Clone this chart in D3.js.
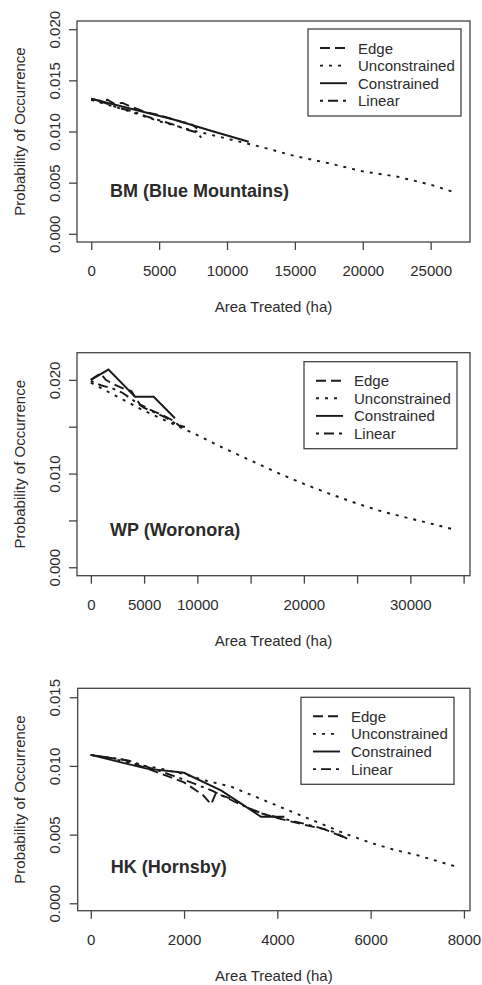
<!DOCTYPE html>
<html>
<head>
<meta charset="utf-8">
<script src="https://cdn.jsdelivr.net/npm/d3@7"></script>
<style>
  body { margin: 0; background: #fff; }
  text { font-family: "Liberation Sans", Arial, sans-serif; fill: #2b2b2b; }
</style>
</head>
<body>
<svg id="chart"></svg>
<script>
// series names, in legend order
const seriesNames = ["Edge", "Unconstrained", "Constrained", "Linear"];

// BM (Blue Mountains)  [area treated (ha), probability]
const bmEdge = [[0,0.0132],[600,0.0130],[1200,0.0131],[1700,0.0127],[2300,0.0128],[2800,0.0125],[4000,0.0119],[5000,0.0116],[6000,0.0112],[6800,0.0109],[7400,0.0107],[7800,0.0103]];
const bmUncon = [[0,0.0131],[2500,0.0121],[5000,0.0110],[7500,0.0101],[10000,0.0093],[12500,0.0085],[15000,0.0076],[17500,0.0069],[20000,0.0061],[22500,0.0056],[25000,0.0048],[26900,0.0040]];
const bmCons = [[0,0.0132],[3000,0.0122],[6000,0.0112],[9000,0.0100],[11600,0.0090]];
const bmLinear = [[0,0.0131],[1000,0.0128],[2000,0.0123],[3000,0.0120],[4000,0.0115],[5000,0.0111],[6000,0.0107],[7000,0.0102],[7800,0.0099],[8100,0.0094]];

// WP (Woronora)
const wpEdge = [[0,0.0200],[900,0.0207],[1400,0.0200],[2200,0.0195],[3200,0.0190],[3800,0.0188],[4600,0.0174],[5600,0.0168],[6800,0.0162],[7800,0.0156],[8400,0.0150],[9000,0.0150]];
const wpUncon = [[0,0.0197],[2500,0.0182],[5000,0.0167],[7500,0.0154],[10000,0.0141],[12500,0.0127],[15000,0.0114],[17500,0.0101],[20000,0.0089],[22500,0.0078],[25000,0.0068],[27500,0.0059],[30000,0.0052],[32500,0.0045],[34200,0.0040]];
const wpCons = [[0,0.0200],[1650,0.0211],[4150,0.0182],[5900,0.0182],[7900,0.0159]];
const wpLinear = [[0,0.0199],[1000,0.0194],[2000,0.0191],[3000,0.0186],[4000,0.0178],[5000,0.0170],[6000,0.0165],[7000,0.0160],[8000,0.0153],[8700,0.0150]];

// HK (Hornsby)
const hkEdge = [[0,0.0108],[700,0.01045],[1300,0.0097],[2000,0.0088],[2400,0.0079],[2580,0.0072],[2680,0.0080],[3100,0.0075],[3500,0.0067],[4000,0.0062],[4600,0.0057],[5000,0.0054],[5500,0.0047]];
const hkUncon = [[0,0.0108],[500,0.0105],[1000,0.0101],[1500,0.0098],[2000,0.0094],[2500,0.0089],[3000,0.0085],[3500,0.0078],[4000,0.0071],[4500,0.0064],[5000,0.0057],[5500,0.0050],[6000,0.0044],[6500,0.0039],[7000,0.0035],[7500,0.0030],[7800,0.0027]];
const hkCons = [[0,0.0108],[1200,0.0098],[2000,0.0095],[2800,0.0082],[3650,0.0063],[4150,0.0063]];
const hkLinear = [[0,0.0108],[800,0.0104],[1500,0.0096],[2000,0.0090],[2600,0.0082],[3200,0.0072],[3700,0.0065],[4200,0.0061],[4800,0.0056],[5200,0.0052],[5500,0.0047]];

// ticks
const bmXTicks = [0, 5000, 10000, 15000, 20000, 25000];
const bmYTicks = [0, 0.005, 0.010, 0.015, 0.020];
const wpXTicks = [0, 5000, 10000, 15000, 20000, 25000, 30000, 35000];
const wpXLabels = [0, 5000, 10000, 20000, 30000];
const wpYTicks = [0, 0.005, 0.010, 0.015, 0.020];
const wpYLabels = [0, 0.010, 0.020];
const hkXTicks = [0, 2000, 4000, 6000, 8000];
const hkYTicks = [0, 0.005, 0.010, 0.015];

const width = 482;
const height = 985;

const svg = d3.select("#chart")
    .attr("width", width)
    .attr("height", height);

const dashes = ["10,5", "3,6", null, "3,5,10,5"];

const panels = [
    { title: "BM (Blue Mountains)", series: [bmEdge, bmUncon, bmCons, bmLinear],
      xDomain: [-1050, 27900], yDomain: [-0.0008, 0.0208],
      top: 21, bottom: 242, left: 77, right: 470,
      xTicks: bmXTicks, xLabels: bmXTicks, yTicks: bmYTicks, yLabels: bmYTicks,
      legendX: 308, legendY: 29, titleY: 191 },
    { title: "WP (Woronora)", series: [wpEdge, wpUncon, wpCons, wpLinear],
      xDomain: [-1300, 35600], yDomain: [-0.0009, 0.0229],
      top: 352.7, bottom: 575.7, left: 77, right: 470,
      xTicks: wpXTicks, xLabels: wpXLabels, yTicks: wpYTicks, yLabels: wpYLabels,
      legendX: 304, legendY: 361.7, titleY: 530 },
    { title: "HK (Hornsby)", series: [hkEdge, hkUncon, hkCons, hkLinear],
      xDomain: [-280, 8130], yDomain: [-0.00054, 0.01565],
      top: 688.3, bottom: 910.7, left: 77.7, right: 470,
      xTicks: hkXTicks, xLabels: hkXTicks, yTicks: hkYTicks, yLabels: hkYTicks,
      legendX: 301, legendY: 697.3, titleY: 867.3 }
];

panels.forEach(p => {
    const x = d3.scaleLinear().domain(p.xDomain).range([p.left, p.right]);
    const y = d3.scaleLinear().domain(p.yDomain).range([p.bottom, p.top]);
    const g = svg.append("g");

    // lines first, box on top
    const line = d3.line().x(d => x(d[0])).y(d => y(d[1]));
    p.series.forEach((s, i) => {
        g.append("path")
            .attr("d", line(s))
            .attr("fill", "none")
            .attr("stroke", "#1a1a1a")
            .attr("stroke-width", 1.9)
            .attr("stroke-dasharray", dashes[i]);
    });

    g.append("rect")
        .attr("x", p.left).attr("y", p.top)
        .attr("width", p.right - p.left).attr("height", p.bottom - p.top)
        .attr("fill", "none").attr("stroke", "#444").attr("stroke-width", 1.3);

    // x axis
    const xAxis = g.append("g")
        .attr("transform", `translate(0,${p.bottom})`)
        .call(d3.axisBottom(x).tickValues(p.xTicks).tickSize(8).tickSizeOuter(0)
            .tickFormat(d => p.xLabels.includes(d) ? String(d) : ""));
    xAxis.select(".domain").remove();
    xAxis.selectAll("line").attr("stroke", "#444").attr("stroke-width", 1.3);
    xAxis.selectAll("text").attr("y", 29).attr("dy", "0.35em")
        .style("font-size", "15px").attr("fill", "#2b2b2b");

    // y axis, labels parallel to axis
    const yAxis = g.append("g")
        .attr("transform", `translate(${p.left},0)`)
        .call(d3.axisLeft(y).tickValues(p.yTicks).tickSize(8).tickSizeOuter(0)
            .tickFormat(d => p.yLabels.includes(d) ? d3.format(".3f")(d) : ""));
    yAxis.select(".domain").remove();
    yAxis.selectAll("line").attr("stroke", "#444").attr("stroke-width", 1.3);
    yAxis.selectAll("text")
        .attr("x", null).attr("dy", null)
        .attr("transform", "translate(-23,0) rotate(-90)")
        .attr("text-anchor", "middle")
        .attr("dominant-baseline", "central")
        .style("font-size", "15px").attr("fill", "#2b2b2b");

    // axis titles
    g.append("text")
        .attr("x", (p.left + p.right) / 2).attr("y", p.bottom + 64.5)
        .attr("text-anchor", "middle").attr("dominant-baseline", "central")
        .style("font-size", "15px")
        .text("Area Treated (ha)");
    g.append("text")
        .attr("transform", `translate(19,${(p.top + p.bottom) / 2}) rotate(-90)`)
        .attr("text-anchor", "middle").attr("dominant-baseline", "central")
        .style("font-size", "15px")
        .text("Probability of Occurrence");

    // region label
    g.append("text")
        .attr("x", p.left + 33).attr("y", p.titleY)
        .attr("dominant-baseline", "central")
        .style("font-size", "18px").style("font-weight", "bold")
        .attr("fill", "#222")
        .text(p.title);

    // legend
    const lg = g.append("g").attr("transform", `translate(${p.legendX},${p.legendY})`);
    lg.append("rect")
        .attr("width", 153).attr("height", 87)
        .attr("fill", "#fff").attr("stroke", "#444").attr("stroke-width", 1.3);
    seriesNames.forEach((name, i) => {
        const ry = 19 + i * 17.6;
        lg.append("line")
            .attr("x1", 12).attr("x2", 39).attr("y1", ry).attr("y2", ry)
            .attr("stroke", "#1a1a1a").attr("stroke-width", 1.9)
            .attr("stroke-dasharray", dashes[i]);
        lg.append("text")
            .attr("x", 50).attr("y", ry)
            .attr("dominant-baseline", "central")
            .style("font-size", "15px")
            .text(name);
    });
});
</script>
</body>
</html>
